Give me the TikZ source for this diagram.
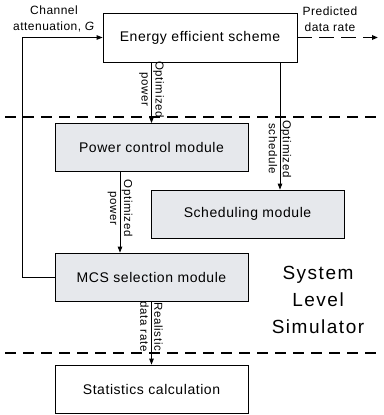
\documentclass[tikz,border=0pt]{standalone}
\usepackage{fontspec}
\setmainfont{Liberation Sans}[LetterSpace=4]
\usetikzlibrary{arrows.meta}
\definecolor{boxgray}{HTML}{E6E8EC}

\begin{document}
\begin{tikzpicture}[x=1pt, y=-1pt, line width=0.8pt,
  whitebox/.style={draw, fill=white, minimum width=193pt, minimum height=48pt, inner sep=0pt, font=\fontsize{14}{16}\selectfont},
  graybox/.style={whitebox, fill=boxgray},
  flow/.style={-{Triangle[length=6pt, width=4.5pt]}},
  dashflow/.style={flow, line width=1.8pt, dash pattern=on 15pt off 7pt},
  divider/.style={line width=1.5pt, dash pattern=on 11pt off 7pt},
  edgelbl/.style={rotate=-90, align=center, inner sep=0pt, font=\fontsize{11.5}{14}\selectfont\addfontfeature{LetterSpace=6}},
  smalltxt/.style={align=center, font=\fontsize{12}{16}\selectfont}]
\useasboundingbox (0,0) rectangle (383,415);

% Boxes
\node[whitebox, minimum width=194pt, minimum height=49pt] (eff) at (200,37.5) {Energy efficient scheme};
\node[graybox] (pwr) at (151.5,147.5) {Power control module};
\node[graybox] (sch) at (247.5,214) {Scheduling module};
\node[graybox] (mcs) at (151.5,277) {MCS selection module};
\node[whitebox] (stat) at (151.5,389) {Statistics calculation};

% Outside labels
\node[smalltxt] (chan) at (54,19) {Channel\\attenuation, \textit{G}};
\node[smalltxt] (pred) at (330,19) {Predicted\\data rate};
\node[align=center, font=\fontsize{19}{27}\selectfont\addfontfeature{LetterSpace=8}] (sim) at (318,300) {System\\Level\\Simulator};

% Dividers
\draw[divider] (5,117) -- (383,117);
\draw[divider] (5,353) -- (383,353);

% Connections
\coordinate (fb) at (22,0);
\coordinate (schx) at (280,0);
\coordinate (out) at (378,37.5);
\draw[flow] (mcs.west) -- (fb |- mcs.west) |- (eff.west);
\draw[dashflow] (eff.east) -- (out);
\draw[flow] (eff.south -| pwr.north) -- node[edgelbl, pos=0.45] {Optimized\\power} (pwr.north);
\draw[flow] (schx |- eff.south) -- node[edgelbl, pos=0.68] {Optimized\\schedule} (schx |- sch.north);
\draw[flow] ([xshift=-31.5pt]pwr.south) -- node[edgelbl, pos=0.45] {Optimized\\power} ([xshift=-31.5pt]mcs.north);
\draw[flow] (mcs.south) -- node[edgelbl, pos=0.4] {Realistic\\data rate} (stat.north);
\end{tikzpicture}
\end{document}
